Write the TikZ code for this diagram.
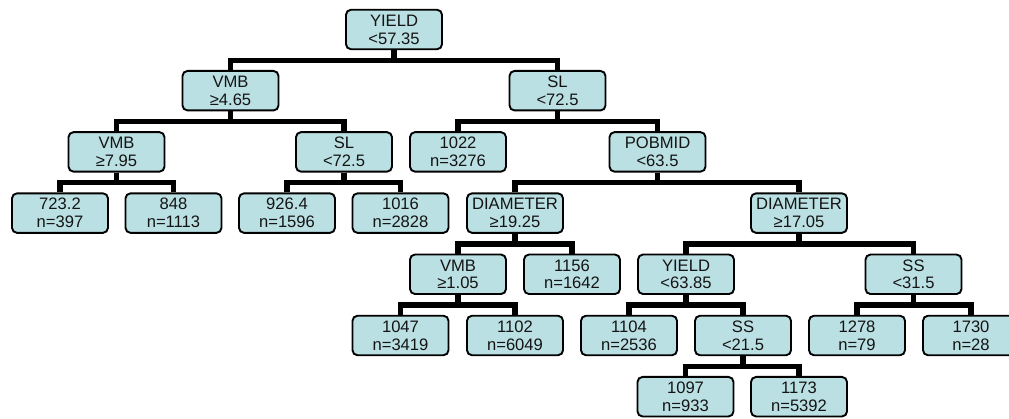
\documentclass[tikz,border=0pt]{standalone}
\usepackage{fontspec}
\setmainfont{Liberation Sans}
\usetikzlibrary{positioning}
\pgfdeclarelayer{bg}
\pgfsetlayers{bg,main}
\definecolor{boxfill}{RGB}{187,224,227}
\definecolor{boxtext}{RGB}{20,20,20}
\tikzset{
  tbox/.style={draw=black, line width=1.9pt, rounded corners=5pt, fill=boxfill,
    minimum width=96pt, minimum height=39.5pt, inner sep=0pt, align=center,
    text=boxtext, font=\fontsize{16.6}{17.8}\selectfont},
  conn/.style={draw=black, line width=5.5pt, line join=miter}
}
\begin{document}
\begin{tikzpicture}[x=1pt,y=-1pt]
\clip (0,0) rectangle (1009,419);
\useasboundingbox (0,0) rectangle (1009,419);
% level 0
\node[tbox] (root) at (394,29.5) {YIELD\\<57.35};
% level 1
\node[tbox] (vmb1) at (230.5,90.7) {VMB\\≥4.65};
\node[tbox] (sl1) at (557.5,90.7) {SL\\<72.5};
% level 2
\node[tbox] (vmb2) at (116.5,151.9) {VMB\\≥7.95};
\node[tbox] (sl2) at (344,151.9) {SL\\<72.5};
\node[tbox] (n1022) at (458,151.9) {1022\\n=3276};
\node[tbox] (pob) at (657.5,151.9) {POBMID\\<63.5};
% level 3
\node[tbox] (n723) at (60,213.1) {723.2\\n=397};
\node[tbox] (n848) at (173.5,213.1) {848\\n=1113};
\node[tbox] (n926) at (287,213.1) {926.4\\n=1596};
\node[tbox] (n1016) at (400.5,213.1) {1016\\n=2828};
\node[tbox] (dia1) at (515,213.1) {DIAMETER\\≥19.25};
\node[tbox] (dia2) at (799,213.1) {DIAMETER\\≥17.05};
% level 4
\node[tbox] (vmb3) at (458,274.3) {VMB\\≥1.05};
\node[tbox] (n1156) at (572,274.3) {1156\\n=1642};
\node[tbox] (y2) at (686,274.3) {YIELD\\<63.85};
\node[tbox] (ss1) at (913.5,274.3) {SS\\<31.5};
% level 5
\node[tbox] (n1047) at (400.5,335.5) {1047\\n=3419};
\node[tbox] (n1102) at (515,335.5) {1102\\n=6049};
\node[tbox] (n1104) at (629,335.5) {1104\\n=2536};
\node[tbox] (ss2) at (743,335.5) {SS\\<21.5};
\node[tbox] (n1278) at (857,335.5) {1278\\n=79};
\node[tbox] (n1730) at (971,335.5) {1730\\n=28};
% level 6
\node[tbox] (n1097) at (685.5,396.7) {1097\\n=933};
\node[tbox] (n1173) at (799,396.7) {1173\\n=5392};
% connectors
\begin{pgfonlayer}{bg}
\foreach \p/\c in {root/vmb1, root/sl1, vmb1/vmb2, vmb1/sl2, sl1/n1022, sl1/pob,
  vmb2/n723, vmb2/n848, sl2/n926, sl2/n1016, pob/dia1, pob/dia2,
  dia1/vmb3, dia1/n1156, dia2/y2, dia2/ss1, vmb3/n1047, vmb3/n1102,
  y2/n1104, y2/ss2, ss1/n1278, ss1/n1730, ss2/n1097, ss2/n1173}
  \draw[conn] (\p.south) -- ++(0,10.1) -| (\c.north);
\end{pgfonlayer}
\end{tikzpicture}
\end{document}
